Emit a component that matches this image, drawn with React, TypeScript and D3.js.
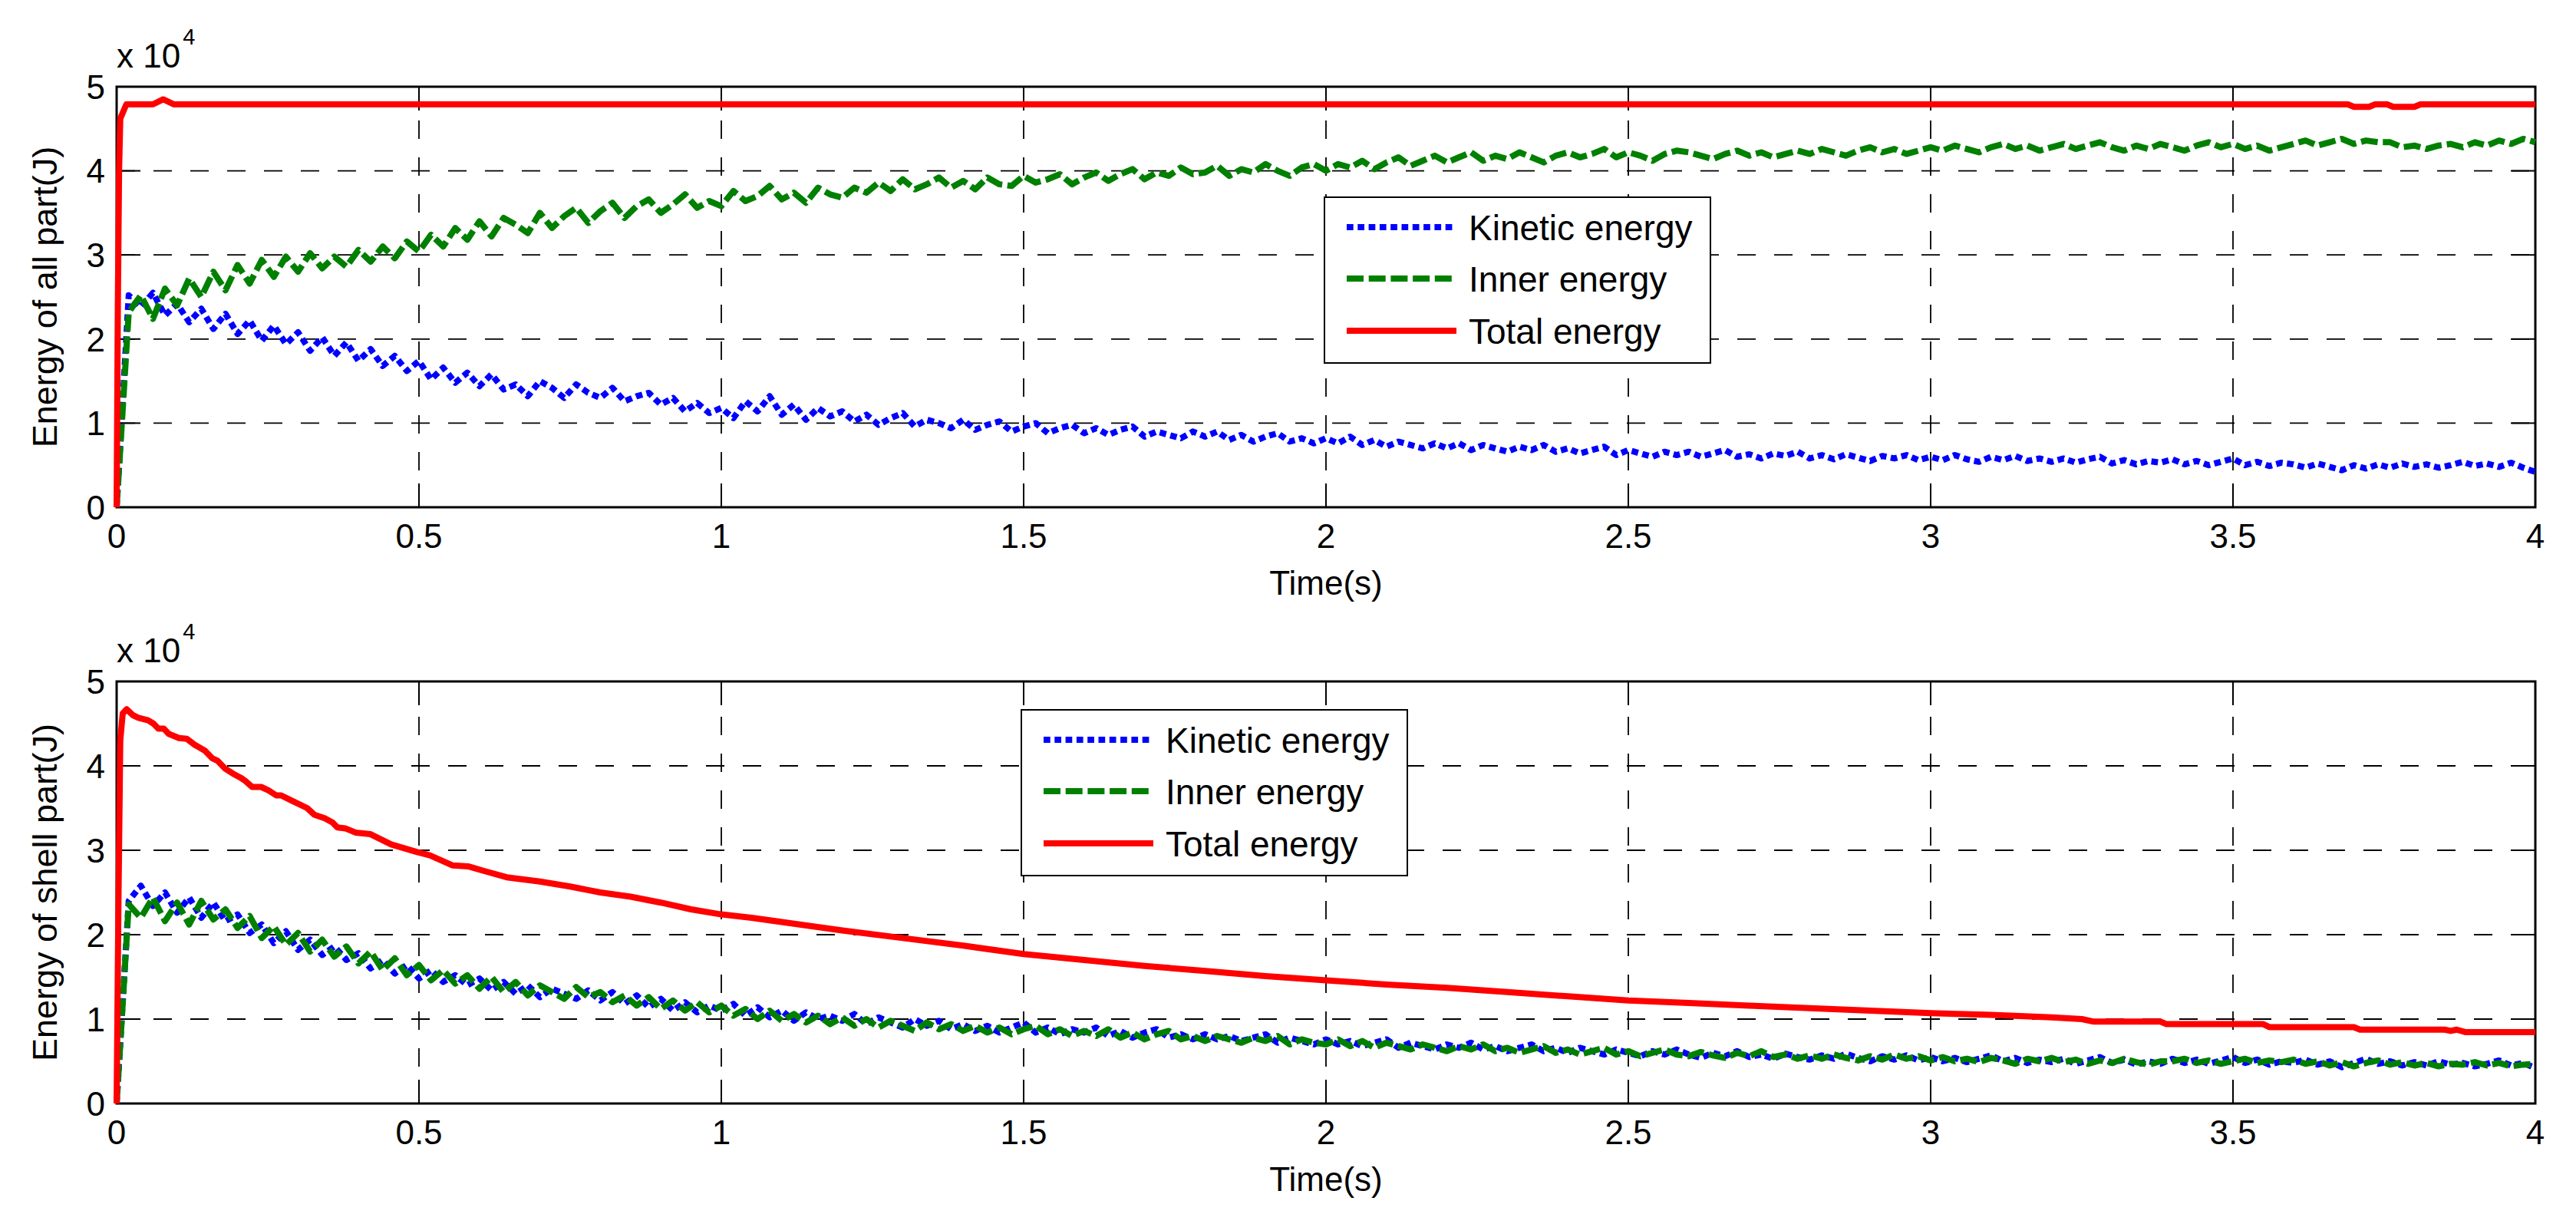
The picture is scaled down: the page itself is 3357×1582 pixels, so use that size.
import * as d3 from 'd3';

// Two stacked energy-vs-time panels (MATLAB style figure)

const WIDTH = 3357;
const HEIGHT = 1582;

const timeTicks = [0, 0.5, 1, 1.5, 2, 2.5, 3, 3.5, 4];
const timeTickLabels = ['0', '0.5', '1', '1.5', '2', '2.5', '3', '3.5', '4'];
const energyTicks = [0, 1, 2, 3, 4, 5];
const legendLabels = ['Kinetic energy', 'Inner energy', 'Total energy'];

// noisy series are sampled every 0.02 s, values in x 10^4 J
const SAMPLE_STEP = 0.02;

const kineticAll = [
  0, 2.52, 2.38, 2.55, 2.28, 2.42, 2.2, 2.36, 2.12, 2.3,
  2.06, 2.22, 1.98, 2.16, 1.94, 2.08, 1.86, 2.02, 1.8, 1.96,
  1.74, 1.88, 1.68, 1.8, 1.62, 1.74, 1.52, 1.66, 1.48, 1.6,
  1.44, 1.58, 1.4, 1.46, 1.32, 1.5, 1.42, 1.3, 1.46, 1.36,
  1.3, 1.42, 1.26, 1.32, 1.36, 1.22, 1.3, 1.14, 1.24, 1.12,
  1.18, 1.06, 1.26, 1.14, 1.32, 1.1, 1.22, 1.04, 1.18, 1.08,
  1.14, 1.02, 1.1, 0.98, 1.06, 1.12, 0.96, 1.04, 1.0, 0.94,
  1.04, 0.92, 0.98, 1.02, 0.9, 0.96, 1.0, 0.88, 0.94, 0.98,
  0.88, 0.94, 0.86, 0.92, 0.96, 0.84, 0.9, 0.86, 0.82, 0.9,
  0.84, 0.9, 0.8, 0.86, 0.78, 0.84, 0.88, 0.78, 0.82, 0.76,
  0.82, 0.76, 0.84, 0.74, 0.8, 0.72, 0.78, 0.74, 0.7, 0.76,
  0.7, 0.76, 0.68, 0.74, 0.7, 0.66, 0.72, 0.68, 0.74, 0.66,
  0.7, 0.64, 0.68, 0.72, 0.62, 0.68, 0.64, 0.6, 0.66, 0.62,
  0.66, 0.6, 0.64, 0.68, 0.6, 0.63, 0.58, 0.64, 0.61, 0.66,
  0.58, 0.62, 0.57, 0.63, 0.59, 0.55, 0.61, 0.58, 0.62, 0.56,
  0.6, 0.56, 0.62, 0.57, 0.54, 0.6, 0.56, 0.61, 0.55, 0.58,
  0.54, 0.58, 0.53, 0.57, 0.6, 0.52, 0.56, 0.51, 0.55, 0.53,
  0.57, 0.51, 0.55, 0.5, 0.54, 0.58, 0.5, 0.54, 0.49, 0.53,
  0.51, 0.47, 0.52, 0.48, 0.44, 0.5, 0.46, 0.51, 0.47, 0.52,
  0.48, 0.51, 0.47, 0.5, 0.54, 0.49, 0.52, 0.48, 0.53, 0.47,
  0.42,
];

const innerAll = [
  0, 2.32, 2.52, 2.24, 2.6, 2.4, 2.72, 2.5, 2.8, 2.58,
  2.88, 2.66, 2.94, 2.74, 2.98, 2.8, 3.02, 2.84, 2.98, 2.86,
  3.06, 2.92, 3.1, 2.96, 3.16, 3.04, 3.24, 3.1, 3.32, 3.18,
  3.4, 3.22, 3.44, 3.36, 3.26, 3.5, 3.32, 3.46, 3.56, 3.38,
  3.52, 3.62, 3.44, 3.58, 3.66, 3.5, 3.6, 3.72, 3.56, 3.64,
  3.58, 3.76, 3.64, 3.7, 3.82, 3.66, 3.74, 3.62, 3.8, 3.72,
  3.68, 3.8, 3.74, 3.86, 3.76, 3.9, 3.78, 3.84, 3.92, 3.8,
  3.88, 3.78, 3.92, 3.84, 3.82, 3.94, 3.86, 3.9, 3.96, 3.84,
  3.92, 3.98, 3.88, 3.96, 4.02, 3.9, 3.98, 3.94, 4.04, 3.96,
  3.98, 4.06, 3.94, 4.02, 3.98, 4.08, 4.0, 3.94, 4.04, 4.08,
  4.0, 4.08, 4.04, 4.12, 4.02, 4.1, 4.16, 4.06, 4.12, 4.18,
  4.1, 4.16, 4.22, 4.12, 4.18, 4.14, 4.22, 4.16, 4.1, 4.18,
  4.22, 4.16, 4.2, 4.26, 4.16, 4.22, 4.18, 4.12, 4.2, 4.24,
  4.22, 4.18, 4.14, 4.2, 4.24, 4.18, 4.22, 4.16, 4.2, 4.24,
  4.2, 4.26, 4.22, 4.18, 4.24, 4.28, 4.22, 4.26, 4.2, 4.24,
  4.28, 4.24, 4.3, 4.26, 4.22, 4.28, 4.32, 4.26, 4.3, 4.24,
  4.28, 4.32, 4.26, 4.3, 4.34, 4.28, 4.24, 4.3, 4.26, 4.32,
  4.28, 4.24, 4.3, 4.34, 4.28, 4.32, 4.26, 4.3, 4.24, 4.28,
  4.32, 4.36, 4.3, 4.34, 4.38, 4.32, 4.36, 4.34, 4.34, 4.28,
  4.3, 4.26, 4.3, 4.32, 4.28, 4.34, 4.3, 4.36, 4.32, 4.38,
  4.34,
];

const totalAllTime = [0, 0.002, 0.004, 0.006, 0.016, 0.06, 0.077, 0.095, 3.69, 3.7, 3.725, 3.735, 3.755, 3.765, 3.8, 3.81, 4];
const totalAll = [0, 2.4, 4.0, 4.62, 4.79, 4.79, 4.85, 4.79, 4.79, 4.76, 4.76, 4.79, 4.79, 4.76, 4.76, 4.79, 4.79];

const kineticShell = [
  0, 2.4, 2.58, 2.34, 2.5, 2.26, 2.44, 2.2, 2.38, 2.16,
  2.24, 2.02, 2.12, 1.9, 2.04, 1.82, 1.94, 1.76, 1.86, 1.7,
  1.78, 1.6, 1.7, 1.54, 1.64, 1.48, 1.58, 1.44, 1.52, 1.4,
  1.48, 1.34, 1.44, 1.3, 1.4, 1.26, 1.36, 1.3, 1.24, 1.34,
  1.22, 1.32, 1.18, 1.28, 1.14, 1.24, 1.1, 1.2, 1.08, 1.16,
  1.1, 1.18, 1.04, 1.14, 1.02, 1.1, 0.98, 1.08, 1.0, 1.04,
  0.98, 1.06, 0.94, 1.02, 0.96, 0.9, 1.0, 0.92, 0.98, 0.88,
  0.94, 0.86, 0.92, 0.84, 0.9, 0.96, 0.84, 0.9, 0.82, 0.88,
  0.84, 0.9, 0.8, 0.86, 0.78, 0.84, 0.88, 0.78, 0.82, 0.76,
  0.82, 0.76, 0.8, 0.74, 0.78, 0.82, 0.72, 0.78, 0.74, 0.7,
  0.76, 0.7, 0.74, 0.68, 0.72, 0.76, 0.66, 0.72, 0.68, 0.64,
  0.7, 0.66, 0.72, 0.64, 0.68, 0.62, 0.66, 0.7, 0.62, 0.66,
  0.6, 0.66, 0.62, 0.58, 0.64, 0.6, 0.56, 0.62, 0.58, 0.64,
  0.58, 0.54, 0.6, 0.56, 0.62, 0.55, 0.58, 0.53, 0.59, 0.55,
  0.52, 0.57, 0.53, 0.59, 0.54, 0.5, 0.56, 0.52, 0.57, 0.51,
  0.55, 0.5, 0.54, 0.49, 0.53, 0.57, 0.5, 0.54, 0.48, 0.52,
  0.49, 0.53, 0.47, 0.51, 0.55, 0.48, 0.52, 0.46, 0.5, 0.47,
  0.53, 0.48, 0.52, 0.47, 0.51, 0.55, 0.48, 0.52, 0.46, 0.5,
  0.48, 0.52, 0.46, 0.5, 0.43, 0.48, 0.53, 0.47, 0.5, 0.45,
  0.49, 0.45, 0.5, 0.46, 0.48, 0.44, 0.47, 0.51, 0.45, 0.48,
  0.42,
];

const innerShell = [
  0, 2.36, 2.2, 2.44, 2.16, 2.38, 2.12, 2.4, 2.18, 2.3,
  2.08, 2.22, 1.96, 2.1, 1.88, 2.02, 1.8, 1.94, 1.74, 1.86,
  1.66, 1.8, 1.58, 1.72, 1.52, 1.64, 1.46, 1.58, 1.42, 1.52,
  1.36, 1.5, 1.32, 1.44, 1.28, 1.4, 1.32, 1.24, 1.38, 1.26,
  1.32, 1.2, 1.28, 1.16, 1.26, 1.12, 1.22, 1.1, 1.2, 1.08,
  1.16, 1.04, 1.12, 1.0, 1.1, 0.98, 1.06, 0.96, 1.04, 0.94,
  1.02, 0.92, 1.0, 0.9, 0.98, 0.92, 0.86, 0.96, 0.88, 0.94,
  0.86, 0.92, 0.84, 0.9, 0.82, 0.88, 0.92, 0.82, 0.88, 0.8,
  0.86, 0.8, 0.88, 0.78, 0.84, 0.76, 0.82, 0.86, 0.76, 0.8,
  0.74, 0.8, 0.76, 0.72, 0.78, 0.74, 0.8, 0.7, 0.76, 0.72,
  0.7, 0.76, 0.68, 0.74, 0.66, 0.72, 0.68, 0.64, 0.7, 0.66,
  0.62, 0.68, 0.64, 0.7, 0.62, 0.66, 0.6, 0.64, 0.68, 0.6,
  0.64, 0.58, 0.62, 0.66, 0.58, 0.62, 0.56, 0.6, 0.64, 0.58,
  0.56, 0.61, 0.57, 0.54, 0.6, 0.56, 0.62, 0.55, 0.58, 0.53,
  0.57, 0.53, 0.58, 0.54, 0.51, 0.56, 0.52, 0.58, 0.53, 0.56,
  0.51, 0.55, 0.5, 0.53, 0.49, 0.54, 0.51, 0.47, 0.53, 0.5,
  0.54, 0.49, 0.52, 0.47, 0.51, 0.48, 0.53, 0.49, 0.46, 0.5,
  0.5, 0.53, 0.48, 0.51, 0.47, 0.5, 0.53, 0.48, 0.51, 0.49,
  0.52, 0.47, 0.5, 0.45, 0.49, 0.44, 0.48, 0.51, 0.46, 0.49,
  0.45, 0.48, 0.44, 0.47, 0.46, 0.49, 0.45, 0.48, 0.44, 0.46,
  0.47,
];

const totalShellTime = [
  0, 0.003, 0.006, 0.01, 0.0165, 0.027, 0.036, 0.052, 0.061, 0.069,
  0.078, 0.086, 0.103, 0.116, 0.129, 0.146, 0.158, 0.167, 0.179, 0.192,
  0.205, 0.213, 0.224, 0.239, 0.251, 0.264, 0.272, 0.289, 0.315, 0.327,
  0.344, 0.357, 0.365, 0.378, 0.395, 0.42, 0.454, 0.496, 0.518, 0.556,
  0.581, 0.61, 0.645, 0.7, 0.75, 0.8, 0.85, 0.9, 0.95, 1.0,
  1.05, 1.1, 1.2, 1.3, 1.4, 1.5, 1.6, 1.7, 1.8, 1.9,
  2.0, 2.1, 2.2, 2.3, 2.4, 2.5, 2.6, 2.7, 2.8, 2.9,
  3.0, 3.1, 3.2, 3.25, 3.27, 3.38, 3.39, 3.55, 3.56, 3.7,
  3.71, 3.85, 3.86, 3.87, 3.885, 4.0,
];
const totalShell = [
  0, 2.4, 4.3, 4.62, 4.67, 4.6, 4.57, 4.54, 4.5, 4.44,
  4.44, 4.38, 4.33, 4.32, 4.25, 4.18, 4.09, 4.06, 3.97, 3.91,
  3.86, 3.82, 3.75, 3.75, 3.71, 3.65, 3.65, 3.59, 3.5, 3.42,
  3.38, 3.33, 3.27, 3.26, 3.21, 3.19, 3.07, 2.98, 2.94, 2.82,
  2.81, 2.75, 2.68, 2.63, 2.57, 2.5, 2.45, 2.38, 2.3, 2.24,
  2.2, 2.15, 2.05, 1.96, 1.87, 1.77, 1.7, 1.63, 1.57, 1.51,
  1.46, 1.41, 1.37, 1.32, 1.27, 1.22, 1.19, 1.16, 1.13, 1.1,
  1.07, 1.05, 1.02, 1.0, 0.97, 0.97, 0.94, 0.94, 0.905, 0.905,
  0.875, 0.875, 0.86, 0.875, 0.845, 0.845,
];

const FONT = '"Liberation Sans", Arial, Helvetica, sans-serif';
const PLOT_LEFT = 152;
const PLOT_RIGHT = 3304;
const TICK_LEN = 31;

interface Series {
  t: number[];
  v: number[];
  color: string;
  dash?: string;
}

const sampled = (v: number[]) => v.map((_, i) => i * SAMPLE_STEP);

const styles: { color: string; dash?: string }[] = [
  { color: '#0000ff', dash: '8.7 5.6' },
  { color: '#008000', dash: '22 6.7' },
  { color: '#ff0000' },
];

function Panel({
  top,
  bottom,
  yLabel,
  series,
  legendX,
  legendY,
}: {
  top: number;
  bottom: number;
  yLabel: string;
  series: Series[];
  legendX: number;
  legendY: number;
}) {
  const x = d3.scaleLinear().domain([0, 4]).range([PLOT_LEFT, PLOT_RIGHT]);
  const y = d3.scaleLinear().domain([0, 5]).range([bottom, top]);
  const line = d3
    .line<[number, number]>()
    .x((d) => x(d[0]))
    .y((d) => y(d[1]));

  const legendW = 503;
  const legendH = 216;
  const rowOffsets = [39, 106, 174];

  return (
    <g>
      {/* grid */}
      {energyTicks.slice(1, -1).map((v) => (
        <line
          key={'gy' + v}
          x1={PLOT_LEFT}
          x2={PLOT_RIGHT}
          y1={y(v)}
          y2={y(v)}
          stroke="#000"
          strokeWidth={1.8}
          strokeDasharray="24 24"
        />
      ))}
      {timeTicks.slice(1, -1).map((t) => (
        <line
          key={'gx' + t}
          x1={x(t)}
          x2={x(t)}
          y1={bottom}
          y2={top}
          stroke="#000"
          strokeWidth={1.8}
          strokeDasharray="24 24"
        />
      ))}

      {/* ticks on all four sides, pointing inward */}
      {timeTicks.map((t) => (
        <g key={'tx' + t} stroke="#000" strokeWidth={2}>
          <line x1={x(t)} x2={x(t)} y1={bottom} y2={bottom - TICK_LEN} />
          <line x1={x(t)} x2={x(t)} y1={top} y2={top + TICK_LEN} />
        </g>
      ))}
      {energyTicks.map((v) => (
        <g key={'ty' + v} stroke="#000" strokeWidth={2}>
          <line x1={PLOT_LEFT} x2={PLOT_LEFT + TICK_LEN} y1={y(v)} y2={y(v)} />
          <line x1={PLOT_RIGHT} x2={PLOT_RIGHT - TICK_LEN} y1={y(v)} y2={y(v)} />
        </g>
      ))}

      <rect
        x={PLOT_LEFT}
        y={top}
        width={PLOT_RIGHT - PLOT_LEFT}
        height={bottom - top}
        fill="none"
        stroke="#000"
        strokeWidth={3}
      />

      {/* tick labels */}
      {timeTicks.map((t, i) => (
        <text
          key={'lx' + t}
          x={x(t)}
          y={bottom + 53}
          textAnchor="middle"
          fontSize={44}
          fontFamily={FONT}
        >
          {timeTickLabels[i]}
        </text>
      ))}
      {energyTicks.map((v) => (
        <text
          key={'ly' + v}
          x={PLOT_LEFT - 15}
          y={y(v) + 15.8}
          textAnchor="end"
          fontSize={44}
          fontFamily={FONT}
        >
          {v}
        </text>
      ))}
      <text x={PLOT_LEFT} y={top - 25} fontSize={44} fontFamily={FONT}>
        x 10
        <tspan dx={3} dy={-30} fontSize={29}>
          4
        </tspan>
      </text>

      {/* axis labels */}
      <text
        x={(PLOT_LEFT + PLOT_RIGHT) / 2}
        y={bottom + 114}
        textAnchor="middle"
        fontSize={44}
        fontFamily={FONT}
      >
        Time(s)
      </text>
      <text
        transform={`translate(74,${(top + bottom) / 2}) rotate(-90)`}
        textAnchor="middle"
        fontSize={45}
        fontFamily={FONT}
      >
        {yLabel}
      </text>

      {/* data */}
      {series.map((s, i) => (
        <path
          key={'s' + i}
          d={line(s.t.map((t, j) => [t, s.v[j]] as [number, number])) || ''}
          fill="none"
          stroke={s.color}
          strokeWidth={8}
          strokeDasharray={s.dash}
          strokeLinejoin="round"
        />
      ))}

      {/* legend */}
      <rect
        x={legendX}
        y={legendY}
        width={legendW}
        height={legendH}
        fill="#fff"
        stroke="#000"
        strokeWidth={2}
      />
      {legendLabels.map((label, i) => (
        <g key={label}>
          <line
            x1={legendX + 29}
            x2={legendX + 172}
            y1={legendY + rowOffsets[i]}
            y2={legendY + rowOffsets[i]}
            stroke={styles[i].color}
            strokeWidth={8}
            strokeDasharray={styles[i].dash}
          />
          <text
            x={legendX + 188}
            y={legendY + rowOffsets[i] + 16.5}
            fontSize={46}
            fontFamily={FONT}
          >
            {label}
          </text>
        </g>
      ))}
    </g>
  );
}

export default function App() {
  const allSeries: Series[] = [
    { t: sampled(kineticAll), v: kineticAll, ...styles[0] },
    { t: sampled(innerAll), v: innerAll, ...styles[1] },
    { t: totalAllTime, v: totalAll, ...styles[2] },
  ];
  const shellSeries: Series[] = [
    { t: sampled(kineticShell), v: kineticShell, ...styles[0] },
    { t: sampled(innerShell), v: innerShell, ...styles[1] },
    { t: totalShellTime, v: totalShell, ...styles[2] },
  ];

  return (
    <div style={{ position: 'absolute', left: 0, top: 0 }}>
      <svg width={WIDTH} height={HEIGHT} style={{ display: 'block', background: '#fff' }}>
        <rect width={WIDTH} height={HEIGHT} fill="#fff" />
        <Panel
          top={113}
          bottom={661}
          yLabel="Energy of all part(J)"
          series={allSeries}
          legendX={1726}
          legendY={257}
        />
        <Panel
          top={888}
          bottom={1438}
          yLabel="Energy of shell part(J)"
          series={shellSeries}
          legendX={1331}
          legendY={925}
        />
      </svg>
    </div>
  );
}
